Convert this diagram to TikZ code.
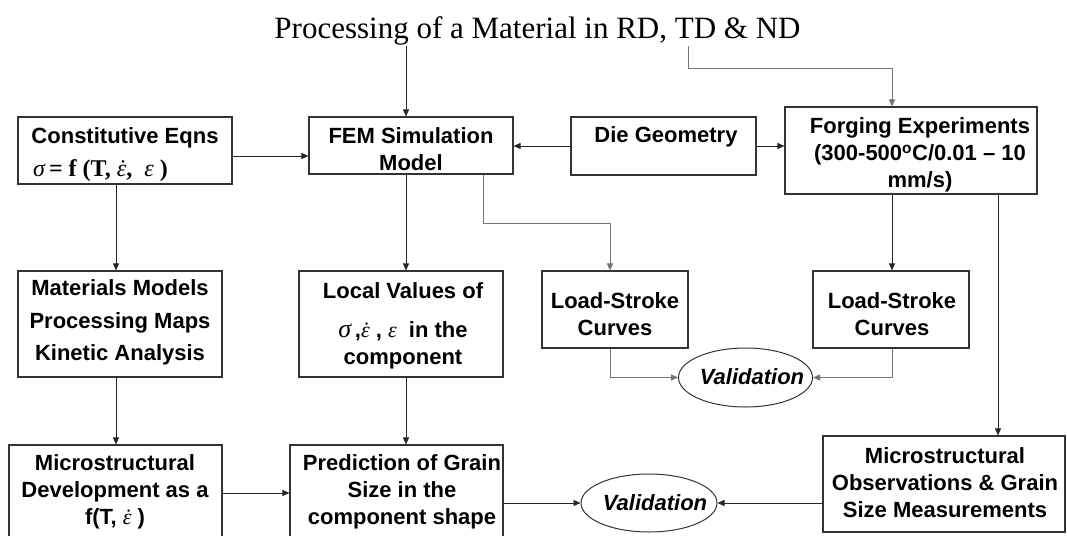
\documentclass[tikz,border=0pt]{standalone}
\usepackage{fontspec}
\setmainfont{Liberation Serif}
\setsansfont{Liberation Sans}
\usetikzlibrary{arrows.meta,shapes.geometric}
\newcommand\gk[1]{{\rmfamily\mdseries\itshape #1}}
\newcommand\edot{\gk{\accent"02D9 ε}}
\begin{document}
\begin{tikzpicture}[x=1pt,y=-1pt,
  box/.style={draw=black!80, line width=1.1pt, rectangle, inner sep=0pt},
  oval/.style={draw=black!80, line width=1pt, ellipse, inner sep=0pt},
  txt/.style={align=center, inner sep=0pt, font=\sffamily\bfseries\fontsize{22}{27}\selectfont},
  vtxt/.style={inner sep=0pt, font=\sffamily\bfseries\itshape\fontsize{22}{27}\selectfont},
  arr/.style={draw=black!85, line width=0.9pt, -{Triangle[length=7pt,width=6pt]}},
  garr/.style={draw=black!55, line width=0.9pt, -{Triangle[length=7pt,width=6pt]}}]
\useasboundingbox (0,0) rectangle (1067,535);

% title
\node[inner sep=0pt, anchor=base, font=\fontsize{31}{36}\selectfont] (title) at (537.5,38) {Processing of a Material in RD, TD \& ND};

% boxes
\node[box, minimum width=214pt, minimum height=67pt] (ce) at (125,150.5) {};
\node[box, minimum width=204pt, minimum height=57pt] (fem) at (411,145.5) {};
\node[box, minimum width=185pt, minimum height=58pt] (die) at (663.5,146) {};
\node[box, minimum width=252pt, minimum height=87pt] (forg) at (911,150.5) {};
\node[box, minimum width=204pt, minimum height=106pt] (mat) at (120,324) {};
\node[box, minimum width=204pt, minimum height=106pt] (loc) at (401,324) {};
\node[box, minimum width=146pt, minimum height=77pt] (ls1) at (615,309.5) {};
\node[box, minimum width=156pt, minimum height=77pt] (ls2) at (891,309.5) {};
\node[box, minimum width=213pt, minimum height=95pt] (mdev) at (115.5,492.5) {};
\node[box, minimum width=213pt, minimum height=95pt] (pred) at (396.5,492.5) {};
\node[box, minimum width=242pt, minimum height=96pt] (mobs) at (944,484) {};
\node[oval, minimum width=134pt, minimum height=59pt] (val1) at (745.5,377.5) {};
\node[oval, minimum width=136pt, minimum height=58pt] (val2) at (649,503) {};

% texts
\node[txt] (ce1) at (125,138) {Constitutive Eqns};
\node[inner sep=0pt, anchor=west, font=\fontsize{24}{27}\selectfont] (ce2) at (33,171) {\gk{σ}\,\textbf{= f (T, }\edot\textbf{,\ \ }\gk{ε}\textbf{ )}};
\node[txt] (femt) at (411,149) {FEM Simulation\\Model};
\node[txt] (diet) at (666,137) {Die Geometry};
\node[txt] (forgt) at (920,155) {Forging Experiments\\(300-500\textsuperscript{o}C/0.01 -- 10\\mm/s)};
\node[txt, font=\sffamily\bfseries\fontsize{22}{32.5}\selectfont] (matt) at (120,322.5) {Materials Models\\Processing Maps\\Kinetic Analysis};
\node[txt] (loct) at (403,325.5) {Local Values of\\[12pt]{\fontsize{26}{27}\selectfont\gk{σ}}\,,\edot\ , \gk{ε}\ \ in the\\component};
\node[txt] (ls1t) at (615,314) {Load-Stroke\\Curves};
\node[txt] (ls2t) at (892,314) {Load-Stroke\\Curves};
\node[vtxt] (val1t) at (752,377) {Validation};
\node[vtxt] (val2t) at (655,503) {Validation};
\node[txt] (mdevt) at (115,491.5) {Microstructural\\Development as a\\f(T, \edot\ )};
\node[txt] (predt) at (402,491.5) {Prediction of Grain\\Size in the\\component shape};
\node[txt] (mobst) at (945,482.5) {Microstructural\\Observations \& Grain\\Size Measurements};

% helper coordinates
\coordinate (t1) at (406,46);
\coordinate (t2) at (688,46);
\coordinate (f1) at (892,68);
\coordinate (ya) at (0,156);
\coordinate (yb) at (0,146);
\coordinate (b1) at (483,223);
\coordinate (b2) at (610,223);
\coordinate (c1) at (892,0);
\coordinate (c2) at (998,0);
\coordinate (d1) at (116,0);
\coordinate (e1) at (406,0);
\coordinate (g1) at (0,493);

% connectors
\draw[arr] (t1) -- (t1 |- fem.north);
\draw[garr] (t2) |- (f1) -- (f1 |- forg.north);
\draw[arr] (ce.east |- ya) -- (fem.west |- ya);
\draw[arr] (die.west |- yb) -- (fem.east |- yb);
\draw[arr] (die.east |- yb) -- (forg.west |- yb);
\draw[arr] (d1 |- ce.south) -- (d1 |- mat.north);
\draw[arr] (e1 |- fem.south) -- (e1 |- loc.north);
\draw[garr] (b1 |- fem.south) -- (b1) -- (b2) -- (b2 |- ls1.north);
\draw[arr] (c1 |- forg.south) -- (c1 |- ls2.north);
\draw[arr] (c2 |- forg.south) -- (c2 |- mobs.north);
\draw[arr] (d1 |- mat.south) -- (d1 |- mdev.north);
\draw[arr] (e1 |- loc.south) -- (e1 |- pred.north);
\draw[arr] (mdev.east |- g1) -- (pred.west |- g1);
\draw[arr] (pred.east |- val2) -- (val2.west);
\draw[arr] (mobs.west |- val2) -- (val2.east);
\draw[garr] (b2 |- ls1.south) |- (val1.west);
\draw[garr] (c1 |- ls2.south) |- (val1.east);
\end{tikzpicture}
\end{document}
